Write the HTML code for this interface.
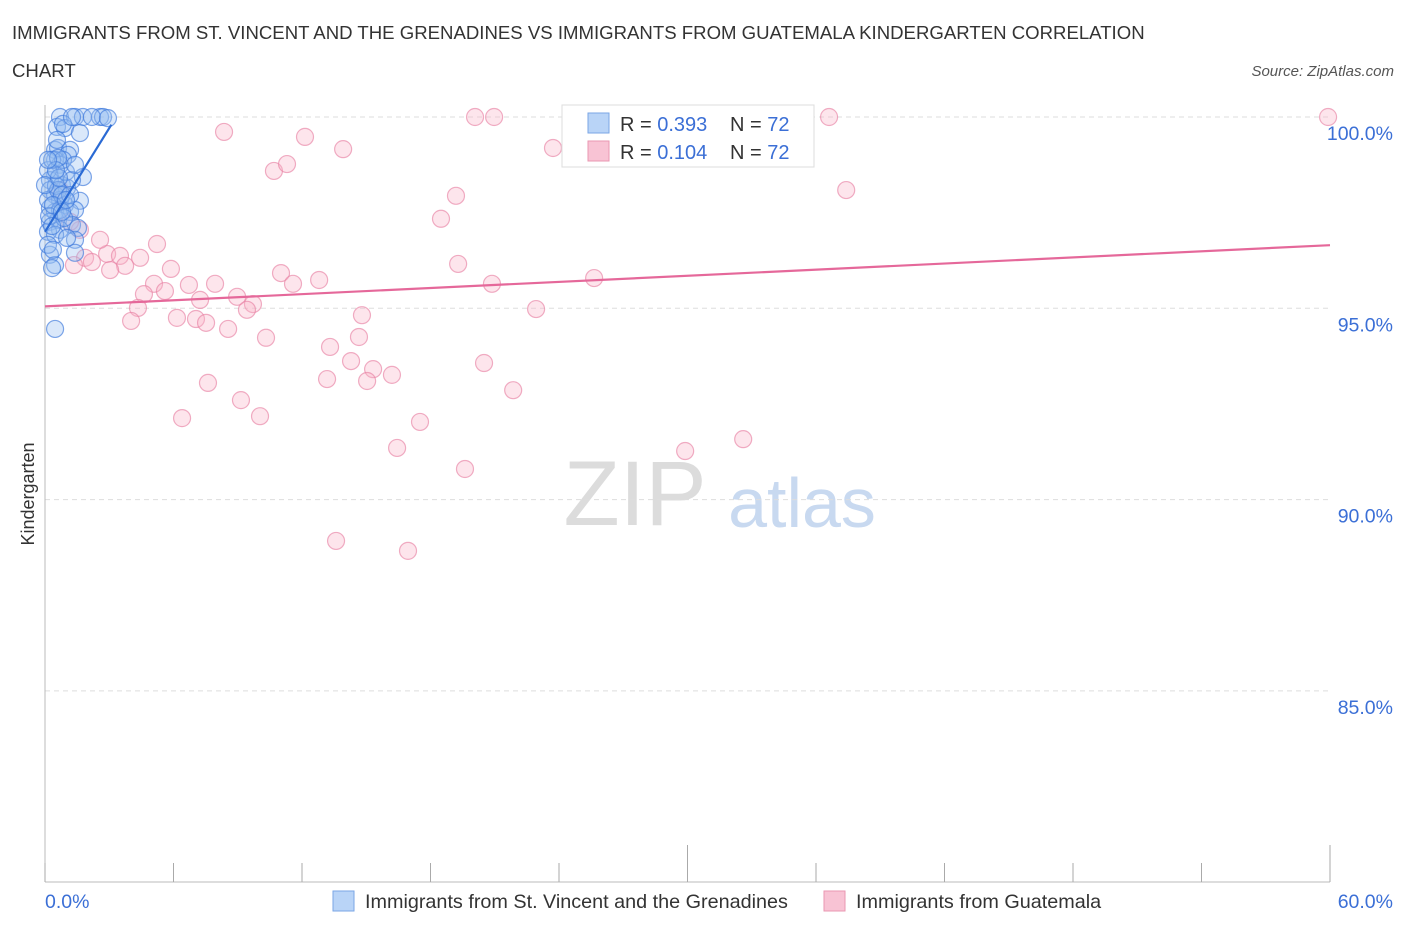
<!DOCTYPE html>
<html><head><meta charset="utf-8"><style>
body{margin:0;background:#fff;font-family:"Liberation Sans",sans-serif}
svg text{font-family:"Liberation Sans",sans-serif}
</style></head><body>
<svg id="chart" width="1406" height="930" xmlns="http://www.w3.org/2000/svg">
<text x="12" y="39" font-size="18.6" fill="#333">IMMIGRANTS FROM ST. VINCENT AND THE GRENADINES VS IMMIGRANTS FROM GUATEMALA KINDERGARTEN CORRELATION</text>
<text x="12" y="77" font-size="18.6" fill="#333">CHART</text>
<text x="1394" y="76" font-size="15" font-style="italic" fill="#555" text-anchor="end">Source: ZipAtlas.com</text>
<text transform="translate(34,494) rotate(-90)" font-size="18" fill="#333" text-anchor="middle">Kindergarten</text>
<g>
<text x="635" y="525" font-size="92" font-family="Liberation Serif" fill="#dcdcdc" text-anchor="middle">ZIP</text>
<text x="802" y="527" font-size="70" fill="#c8d9f0" text-anchor="middle">atlas</text>
</g>
<g id="grid"></g><g id="axes"></g><g id="pts"></g><g id="lines"></g>
<g>
<rect x="562" y="105" width="252" height="62" fill="#fff" stroke="#ddd"/>
<rect x="588" y="113" width="21" height="20" fill="#b9d4f7" stroke="#7aa6e6"/>
<rect x="588" y="141" width="21" height="20" fill="#f8c3d4" stroke="#ea97b2"/>
<text x="620" y="131" font-size="20" fill="#333">R = <tspan fill="#3b6fd6">0.393</tspan></text>
<text x="730" y="131" font-size="20" fill="#333">N = <tspan fill="#3b6fd6">72</tspan></text>
<text x="620" y="159" font-size="20" fill="#333">R = <tspan fill="#3b6fd6">0.104</tspan></text>
<text x="730" y="159" font-size="20" fill="#333">N = <tspan fill="#3b6fd6">72</tspan></text>
</g>
<g>
<rect x="333" y="891" width="21" height="20" fill="#b9d4f7" stroke="#7aa6e6"/>
<text x="365" y="908" font-size="19.8" fill="#333">Immigrants from St. Vincent and the Grenadines</text>
<rect x="824" y="891" width="21" height="20" fill="#f8c3d4" stroke="#ea97b2"/>
<text x="856" y="908" font-size="19.8" fill="#333">Immigrants from Guatemala</text>
</g>
<text x="45" y="908" font-size="19.5" fill="#3b6fd6">0.0%</text>
<text x="1393" y="908" font-size="19.5" fill="#3b6fd6" text-anchor="end">60.0%</text>
</svg>
<script>
const yTicks=[100,95,90,85];
const blueX=[0.70,1.40,2.57,2.71,1.77,0.56,0.93,1.63,0.84,0.47,0.61,1.17,1.07,0.47,0.70,1.77,0.47,0.23,0.79,1.03,0.23,0.47,0.70,0.93,1.63,0.23,0.47,1.17,1.40,0.61,0.23,1.26,1.54,0.70,0.14,0.47,1.40,0.23,0.47,0.33,0.47,0.14,0.33,0.56,2.19,1.26,2.94,0.98,1.26,0.51,0.14,0.70,0.89,0.14,0.37,1.40,0.61,0.79,0.19,0.33,1.03,1.17,0.00,0.65,0.84,0.61,0.37,0.79,0.98,0.51,0.14,1.40];
const blueY=[100,100,100,100,100,99.74,99.71,99.58,99.82,99.14,99.19,99.14,99.01,98.88,98.75,98.43,98.48,98.35,98.22,98.15,98.09,97.96,97.83,97.70,97.81,97.62,97.52,97.52,97.57,97.31,97.26,97.18,97.10,97.05,97.00,96.92,96.79,96.40,96.13,96.05,94.46,98.61,98.88,99.40,100,100,99.97,98.56,98.35,98.20,97.83,97.57,97.36,96.66,96.53,96.45,98.09,97.96,97.41,97.15,96.84,97.96,98.22,98.41,98.88,98.93,97.70,97.52,97.83,98.61,98.88,98.75];
const pinkX=[8.36,20.08,20.97,12.14,13.92,23.72,33.67,36.61,59.91,10.69,11.30,37.41,19.19,18.49,5.23,2.90,3.50,1.87,2.19,1.35,3.74,5.88,11.02,19.29,12.80,11.58,6.72,7.94,5.09,5.60,4.62,8.97,9.71,9.43,4.34,25.64,20.87,22.93,14.80,6.16,7.05,7.52,4.02,8.55,10.32,14.66,13.31,14.29,20.50,15.32,16.20,13.17,15.04,7.61,21.86,9.15,6.40,10.04,17.51,16.44,19.61,29.89,32.60,13.59,16.95,2.57,1.63,1.17,0.70,3.04,4.44,7.24];
const pinkY=[99.61,100,100,99.48,99.16,99.19,100,100,100,98.59,98.77,98.09,97.94,97.34,96.68,96.42,96.37,96.32,96.21,96.13,96.11,96.03,95.92,96.16,95.74,95.64,95.61,95.64,95.64,95.45,95.37,95.30,95.11,94.96,95.01,95.79,95.64,94.98,94.82,94.75,94.72,94.62,94.67,94.46,94.23,94.25,93.99,93.62,93.57,93.41,93.26,93.15,93.10,93.05,92.86,92.60,92.13,92.18,92.03,91.35,90.80,91.27,91.58,88.92,88.66,96.79,97.05,97.26,98.09,96.0,96.32,95.22];
const blueTrend=[0,97.0,3.1,99.8];
const pinkTrend=[0,95.05,60,96.65];
const NS='http://www.w3.org/2000/svg';
const X=v=>45+v/60*1285;
const Y=v=>117+(100-v)*38.26;
function mk(tag,attrs,parent){const e=document.createElementNS(NS,tag);for(const k in attrs)e.setAttribute(k,attrs[k]);document.getElementById(parent).appendChild(e);return e;}
yTicks.forEach(t=>{
 const l=mk('line',{x1:45,x2:1330,y1:Y(t),y2:Y(t),stroke:'#ddd','stroke-dasharray':'5,4'},'grid');
 
 
 const tx=mk('text',{x:1393,y:Y(t)+23,'font-size':19.5,fill:'#3b6fd6','text-anchor':'end'},'grid');
 tx.textContent=t.toFixed(1)+'%';
 
 
});
const ax=mk('line',{x1:45,x2:1330,y1:882,y2:882,stroke:'#bbb'},'axes');


const ay=mk('line',{x1:45,x2:45,y1:105,y2:882,stroke:'#bbb'},'axes');


for(let i=0;i<=10;i++){
 const big=(i==5||i==10);
 const tk=mk('line',{x1:X(i*6),x2:X(i*6),y1:big?845:863,y2:882,stroke:'#aaa'},'axes');
 
 
}
pinkX.forEach((v,i)=>{
 const c=mk('circle',{cx:X(v),cy:Y(pinkY[i]),r:8.5,fill:'rgba(248,180,200,0.35)',stroke:'rgba(232,130,165,0.65)','stroke-width':1.2},'pts');
 
 
});
blueX.forEach((v,i)=>{
 const c=mk('circle',{cx:X(v),cy:Y(blueY[i]),r:8.5,fill:'rgba(150,190,240,0.35)',stroke:'rgba(60,120,220,0.65)','stroke-width':1.2},'pts');
 
 
});
const bl=mk('line',{x1:X(blueTrend[0]),y1:Y(blueTrend[1]),x2:X(blueTrend[2]),y2:Y(blueTrend[3]),stroke:'#2a6ad4','stroke-width':2.2},'lines');


const pl=mk('line',{x1:X(pinkTrend[0]),y1:Y(pinkTrend[1]),x2:X(pinkTrend[2]),y2:Y(pinkTrend[3]),stroke:'#e5689a','stroke-width':2.2},'lines');


</script>
</body></html>
